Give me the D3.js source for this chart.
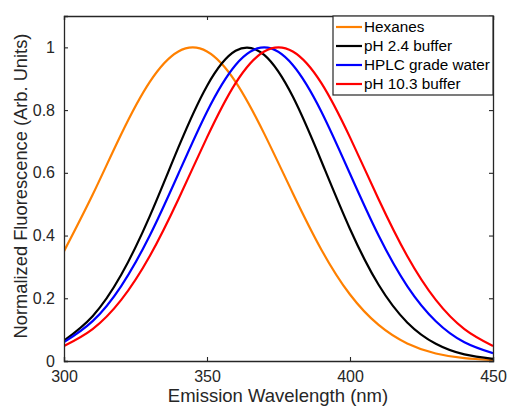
<!DOCTYPE html>
<html><head><meta charset="utf-8">
<script src="https://cdn.jsdelivr.net/npm/d3@7"></script>
<style>body{margin:0;background:#fff;} svg{display:block;font-family:"Liberation Sans",Arial,Helvetica,sans-serif;}</style>
</head><body>
<svg id="c" width="508" height="409"></svg>
<script>
const wavelengths = [300,310,320,330,340,350,360,370,380,390,400,410,420,430,440,450];
const hexanes = [0.350,0.530,0.723,0.890,0.987,0.987,0.890,0.725,0.535,0.355,0.212,0.115,0.056,0.024,0.009,0.003];
const ph24 = [0.065,0.143,0.275,0.462,0.681,0.877,0.989,0.976,0.843,0.637,0.421,0.243,0.123,0.055,0.021,0.007];
const hplc = [0.060,0.127,0.239,0.400,0.597,0.795,0.944,1.000,0.944,0.795,0.597,0.400,0.239,0.127,0.060,0.025];
const ph103 = [0.048,0.102,0.195,0.335,0.516,0.713,0.886,0.987,0.987,0.886,0.713,0.516,0.335,0.195,0.102,0.048];
const seriesNames = ["Hexanes","pH 2.4 buffer","HPLC grade water","pH 10.3 buffer"];
const seriesColors = ["#ff8000","#000000","#0000ff","#ff0000"];
const xTicks = [300,350,400,450];
const yTicks = [0,0.2,0.4,0.6,0.8,1];

const allSeries = [hexanes, ph24, hplc, ph103];
const svg = d3.select("#c");
const L=64, R=493, T=16, B=361;
const x = d3.scaleLinear().domain([300,450]).range([L,R]);
const y = d3.scaleLinear().domain([0,1.1]).range([B,T]);
const axisColor="#262626";

svg.append("defs").append("clipPath").attr("id","clip").append("rect")
  .attr("x",L).attr("y",T).attr("width",R-L).attr("height",B-T);

const line = d3.line().x((d,i)=>x(wavelengths[i])).y(d=>y(d)).curve(d3.curveNatural);
const g = svg.append("g").attr("clip-path","url(#clip)");
allSeries.forEach((s,k)=>{
  g.append("path").attr("d",line(s)).attr("fill","none")
    .attr("stroke",seriesColors[k]).attr("stroke-width",2.2);
});

const fmt = d => d===0?"0":(d===1?"1":d3.format(".1f")(d));
const xb = svg.append("g").attr("transform",`translate(0,${B})`)
  .call(d3.axisBottom(x).tickValues(xTicks).tickSize(-4).tickPadding(10).tickFormat(d3.format("d")));
const xt = svg.append("g").attr("transform",`translate(0,${T})`)
  .call(d3.axisTop(x).tickValues(xTicks).tickSize(-4).tickFormat(""));
const yl = svg.append("g").attr("transform",`translate(${L},0)`)
  .call(d3.axisLeft(y).tickValues(yTicks).tickSize(-4).tickPadding(9).tickFormat(fmt));
const yr = svg.append("g").attr("transform",`translate(${R},0)`)
  .call(d3.axisRight(y).tickValues(yTicks).tickSize(-4).tickFormat(""));
[xb,xt,yl,yr].forEach(a=>{
  a.select(".domain").attr("stroke",axisColor).attr("stroke-width",1.3);
  a.selectAll(".tick line").attr("stroke",axisColor).attr("stroke-width",1.1);
  a.selectAll("text").attr("fill",axisColor).style("font-size","16px").style("font-family","Liberation Sans, Arial, sans-serif");
});

svg.append("text").attr("x",278).attr("y",402).attr("text-anchor","middle")
  .attr("fill",axisColor).style("font-size","18.5px").text("Emission Wavelength (nm)");
svg.append("text").attr("transform",`translate(26.5,186) rotate(-90)`).attr("text-anchor","middle")
  .attr("fill",axisColor).style("font-size","18.3px").text("Normalized Fluorescence (Arb. Units)");

const lg = svg.append("g");
lg.append("rect").attr("x",333).attr("y",T).attr("width",R-333).attr("height",95-T)
  .attr("fill","#fff").attr("stroke",axisColor).attr("stroke-width",1.2);
seriesNames.forEach((n,k)=>{
  const yy = 27 + k*19;
  lg.append("line").attr("x1",336).attr("x2",362).attr("y1",yy).attr("y2",yy)
    .attr("stroke",seriesColors[k]).attr("stroke-width",2.2);
  lg.append("text").attr("x",364).attr("y",yy).attr("dy","0.35em")
    .attr("fill","#000").style("font-size","15.3px").text(n);
});
</script>
</body></html>
